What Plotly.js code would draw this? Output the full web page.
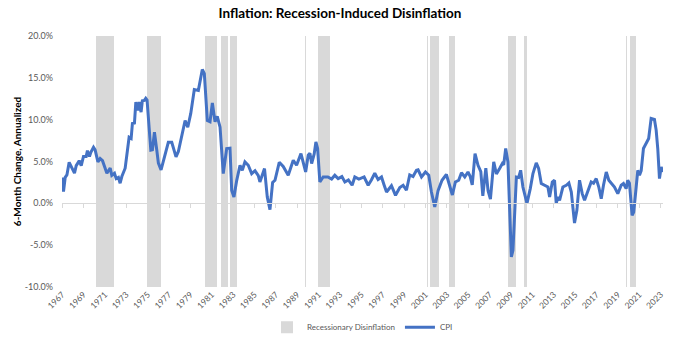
<!DOCTYPE html>
<html>
<head>
<meta charset="utf-8">
<script src="https://cdn.plot.ly/plotly-3.0.1.min.js"></script>
<style>html,body{margin:0;padding:0;background:#fff;}#chart{width:680px;height:344px;}</style>
</head>
<body>
<div id="chart"></div>
<script>
// CPI, 6-month change annualized (%) at decimal-year positions
const cpiYears = [
1967.0,1967.12,1967.28,1967.44,1967.65,1967.91,1968.15,1968.31,1968.59,1968.78,1968.99,
1969.24,1969.36,1969.55,1969.68,1969.93,1970.08,1970.34,1970.55,1970.77,1970.95,
1971.18,1971.49,1971.64,1971.89,1972.05,1972.26,1972.42,1972.58,1972.89,
1973.14,1973.26,1973.45,1973.57,1973.76,1973.89,1974.07,1974.2,1974.38,1974.5,1974.69,1974.82,1974.94,
1975.13,1975.29,1975.44,1975.63,1975.85,1976.0,1976.25,1976.47,1976.79,1976.93,
1977.25,1977.42,1977.65,1977.87,1978.09,1978.5,1978.75,1979.03,1979.36,1979.74,
1980.11,1980.3,1980.58,1980.83,1981.05,1981.3,1981.51,1981.77,1982.07,1982.39,1982.7,1982.86,
1983.07,1983.33,1983.64,1983.85,1984.1,1984.41,1984.73,1985.04,1985.35,1985.5,1985.93,
1986.19,1986.44,1986.69,1986.91,1987.31,1987.68,1988.15,1988.62,1988.93,1989.34,1989.78,
1990.02,1990.18,1990.34,1990.58,1990.74,1990.9,1991.11,1991.42,1991.86,1992.21,1992.51,1992.82,
1993.17,1993.45,1993.78,1994.13,1994.38,1994.76,1995.25,1995.63,1995.93,1996.25,1996.56,1996.88,
1997.12,1997.35,1997.81,1998.19,1998.59,1998.9,1999.21,1999.52,1999.83,2000.15,2000.3,2000.62,2000.99,
2001.3,2001.55,2001.86,2002.17,2002.54,2002.95,2003.26,2003.51,2003.79,2004.1,2004.36,2004.67,2004.97,
2005.18,2005.37,2005.63,2005.91,2006.17,2006.36,2006.64,2006.85,2007.07,2007.38,2007.63,2007.93,
2008.19,2008.31,2008.5,2008.71,2008.87,2009.03,2009.18,2009.34,2009.5,2009.71,2009.9,
2010.11,2010.49,2010.8,2011.05,2011.36,2011.58,2011.83,2012.14,2012.45,2012.61,2012.86,
2013.07,2013.23,2013.38,2013.54,2013.85,2014.17,2014.41,2014.64,2014.94,2015.16,2015.41,2015.66,2015.88,
2016.19,2016.5,2016.72,2016.97,2017.21,2017.44,2017.65,2017.91,2018.15,2018.37,2018.68,2018.99,
2019.31,2019.52,2019.77,2019.92,2020.08,2020.33,2020.48,2020.71,2020.86,2021.02,2021.18,2021.39,
2021.64,2021.88,2022.11,2022.42,2022.58,2022.73,2022.89,2023.05,2023.2
];
const cpiValues = [
3.1,1.4,3.1,3.4,4.9,4.3,3.6,4.5,5.1,4.5,5.6,
5.6,6.3,5.6,6.1,6.7,6.4,4.95,5.35,5.1,4.35,
3.6,4.2,3.35,3.6,2.95,3.1,2.4,3.2,4.2,
6.7,7.9,7.75,9.55,9.6,12.1,11.1,12.1,10.9,12.25,12.3,12.55,12.35,
8.75,6.35,6.4,8.5,6.35,4.8,4.0,5.15,6.7,7.3,
7.3,6.6,5.55,6.2,7.55,9.9,9.1,10.75,13.6,13.5,
16.0,15.5,9.9,9.75,12.0,9.75,10.4,9.1,3.55,6.55,6.6,1.55,
0.75,2.75,4.55,3.95,4.95,4.55,3.55,3.9,3.3,2.55,4.16,
0.75,-0.76,2.5,2.76,4.9,4.4,3.35,5.15,4.55,5.95,3.75,
5.75,6.0,4.76,5.9,7.34,6.55,2.55,3.15,3.15,2.9,3.35,2.96,
3.2,2.55,2.8,2.16,3.15,2.9,3.15,2.16,2.8,3.6,2.84,3.15,
2.2,1.35,2.1,0.96,1.9,2.16,1.56,3.4,3.2,3.95,4.0,3.15,3.75,
3.35,1.35,-0.44,1.5,2.76,3.45,1.95,1.0,2.55,2.76,3.65,3.15,3.75,
3.2,2.2,5.95,4.55,3.8,0.9,4.2,1.5,0.5,4.95,3.5,4.16,
4.76,4.6,6.55,4.95,-1.6,-6.4,-5.6,-0.8,3.15,3.1,3.95,
1.95,0.0,1.76,3.56,4.83,4.16,2.36,2.16,1.95,0.75,2.55,
2.76,0.0,0.75,0.36,1.95,2.16,2.43,1.35,-2.36,-0.84,2.76,1.16,0.36,
1.56,2.55,2.4,2.96,1.95,0.56,2.16,3.75,2.76,2.36,1.95,1.16,
2.16,2.36,1.76,2.76,2.4,-1.44,-1.04,1.95,3.95,3.35,3.9,6.55,
7.15,7.75,10.15,10.03,8.75,6.55,2.96,4.35,3.75
];
// Recessionary disinflation periods (decimal years)
const recessionStart = [1970.18,1974.97,1980.34,1981.83,1982.70,1989.75,1990.95,2001.12,2001.46,2003.17,2008.68,2010.18,2019.75,2020.15];
const recessionEnd   = [1971.86,1976.28,1981.49,1982.54,1983.33,1989.84,1992.10,2001.21,2002.23,2003.73,2009.43,2010.49,2019.84,2020.69];
const tickYears = [1967,1969,1971,1973,1975,1977,1979,1981,1983,1985,1987,1989,1991,1993,1995,1997,1999,2001,2003,2005,2007,2009,2011,2013,2015,2017,2019,2021,2023];
const yTicks = [-10,-5,0,5,10,15,20];

const yMin = -10, yMax = 20;
const xRange = [1966.98, 2023.22];

const recCenter = recessionStart.map((s,i)=>(s+recessionEnd[i])/2);
const recWidth = recessionStart.map((s,i)=>recessionEnd[i]-s);

const bars = {
  type:'bar', name:'Recessionary Disinflation',
  x: recCenter, width: recWidth,
  y: recCenter.map(()=>yMax-yMin), base: yMin,
  marker:{color:'#D9D9D9', line:{width:0}},
  xaxis:'x', yaxis:'y', hoverinfo:'skip'
};
const cpi = {
  type:'scatter', mode:'lines', name:'CPI',
  x: cpiYears, y: cpiValues,
  line:{color:'#4472C4', width:3},
  xaxis:'x2', yaxis:'y'
};

const font = {family:'Lato, "Open Sans", sans-serif', color:'#595959', size:9};
const layout = {
  width:680, height:344,
  margin:{l:62, r:17, t:36, b:57, autoexpand:false},
  paper_bgcolor:'#fff', plot_bgcolor:'#fff',
  font: font,
  showlegend:true,
  title:{text:'<b>Inflation: Recession-Induced Disinflation</b>', x:0.5, xanchor:'center', y:0.96, yanchor:'middle',
         font:{family:'Lato, sans-serif', size:13.5, color:'#000'}},
  xaxis:{
    range:xRange, tickmode:'array', tickvals:tickYears, ticktext:tickYears.map(String),
    tickangle:-45, ticks:'', showline:false, showgrid:false, zeroline:false, automargin:false,
    tickfont:{family:'Lato, sans-serif', size:8.5, color:'#595959'}
  },
  xaxis2:{
    range:xRange, overlaying:'x', anchor:'free', position:(0-yMin)/(yMax-yMin),
    tickmode:'array', tickvals:tickYears, showticklabels:false,
    ticks:'outside', ticklen:4, tickcolor:'#D9D9D9', tickwidth:1,
    showline:true, linecolor:'#D9D9D9', linewidth:1, showgrid:false, zeroline:false
  },
  yaxis:{
    range:[yMin,yMax], tickmode:'array', tickvals:yTicks, ticktext:yTicks.map(v=>v.toFixed(1)+'%'),
    showgrid:false, zeroline:false, showline:false, ticks:'', ticklabelstandoff:8, automargin:false,
    tickfont:{family:'Lato, sans-serif', size:9, color:'#595959'},
    title:{text:'<b>6-Month Change, Annualized</b>', standoff:1, font:{family:'Lato, sans-serif', size:10, color:'#000'}}
  },
  legend:{orientation:'h', x:0.5, xanchor:'center', y:-0.16, yanchor:'middle',
          font:{family:'Lato, sans-serif', size:8, color:'#595959'}, traceorder:'normal'},
  bargap:0
};
Plotly.newPlot('chart',[bars,cpi],layout,{staticPlot:true, displayModeBar:false});
</script>
</body>
</html>
